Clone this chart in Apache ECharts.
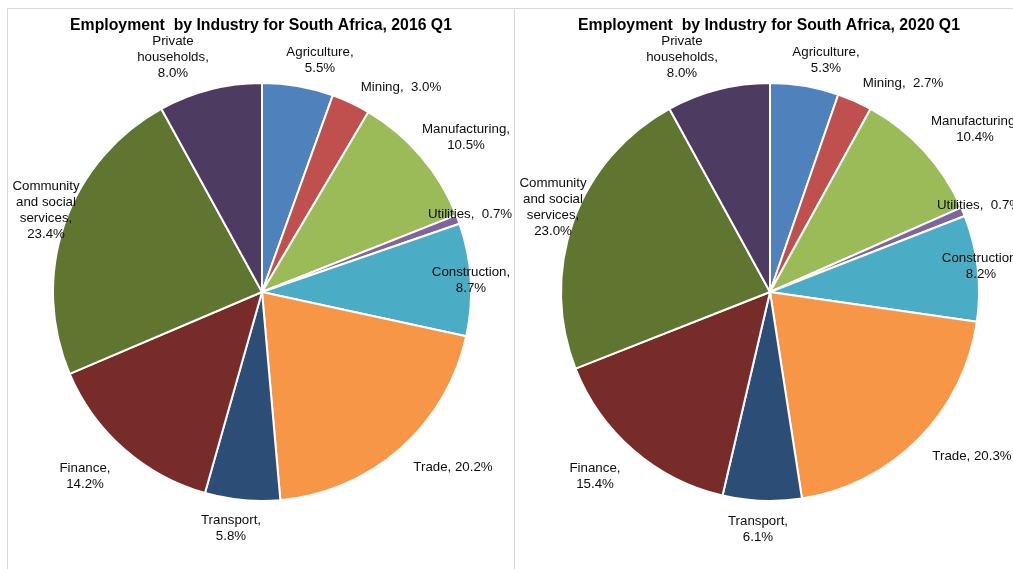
<!DOCTYPE html>
<html>
<head>
<meta charset="utf-8">
<script src="https://cdn.jsdelivr.net/npm/echarts@6/dist/echarts.min.js"></script>
<style>
  html, body { margin: 0; padding: 0; background: #fff; }
  #chart { width: 1013px; height: 569px; }
</style>
</head>
<body>
<div id="chart"></div>
<script>
// Industry categories (label text as wrapped on the chart)
const industries = [
  'Agriculture', 'Mining', 'Manufacturing', 'Utilities', 'Construction',
  'Trade', 'Transport', 'Finance', 'Community and social services', 'Private households'
];
const labelNames = [
  'Agriculture,\n', 'Mining,  ', 'Manufacturing,\n', 'Utilities,  ', 'Construction,\n',
  'Trade, ', 'Transport,\n', 'Finance,\n', 'Community\nand social\nservices,\n', 'Private\nhouseholds,\n'
];
// Share of employment, per cent
const share2016 = [5.5, 3.0, 10.5, 0.7, 8.7, 20.2, 5.8, 14.2, 23.4, 8.0];
const share2020 = [5.3, 2.7, 10.4, 0.7, 8.2, 20.3, 6.1, 15.4, 23.0, 8.0];
const titles = [
  'Employment  by Industry for South Africa, 2016 Q1',
  'Employment  by Industry for South Africa, 2020 Q1'
];

const colors = ['#4F81BD', '#C0504D', '#9BBB59', '#8064A2', '#4BACC6',
                '#F79646', '#2C4D75', '#772C2A', '#5F7530', '#4D3B62'];

// Label placement: offsets of each label's centre from its pie centre (px)
const labelOffsets = [
  [[58, -232], [139, -205], [204, -155], [208, -78], [209, -12],
   [191, 175], [-31, 236], [-177, 184], [-216, -82], [-89, -235]],
  [[56, -232], [133, -209], [205, -163], [209, -87], [211, -26],
   [202, 164], [-12, 237], [-175, 184], [-217, -85], [-88, -235]]
];
const centers = [[262, 292], [770, 292]];

function buildSeries(values, idx) {
  return {
    type: 'pie',
    center: centers[idx],
    radius: 209,
    startAngle: 90,
    clockwise: true,
    avoidLabelOverlap: false,
    animation: false,
    silent: true,
    itemStyle: { borderColor: '#fff', borderWidth: 2 },
    label: {
      show: true,
      position: 'outside',
      fontFamily: 'Liberation Sans, Arial, sans-serif',
      fontSize: 13.3,
      lineHeight: 16,
      color: '#0d0d0d',
      align: 'center',
      formatter: p => labelNames[p.dataIndex] + p.value.toFixed(1) + '%'
    },
    labelLine: { show: false },
    labelLayout: p => {
      const off = labelOffsets[idx][p.dataIndex];
      return {
        x: centers[idx][0] + off[0],
        y: centers[idx][1] + off[1],
        align: 'center',
        verticalAlign: 'middle',
        hideOverlap: false
      };
    },
    data: values.map((v, i) => ({
      name: industries[i],
      value: v,
      itemStyle: { color: colors[i] }
    }))
  };
}

const chart = echarts.init(document.getElementById('chart'), null, { renderer: 'canvas' });
chart.setOption({
  backgroundColor: '#fff',
  title: titles.map((t, i) => ({
    text: t,
    left: centers[i][0] - 6,
    top: 13,
    textAlign: 'center',
    textStyle: {
      fontFamily: 'Liberation Sans, Arial, sans-serif',
      fontSize: 15.8,
      fontWeight: 'bold',
      color: '#000'
    }
  })),
  graphic: [
    // chart-area frames
    { type: 'rect', shape: { x: 7.5, y: 8.5, width: 507, height: 600 },
      style: { fill: 'none', stroke: '#D9D9D9', lineWidth: 1 }, silent: true, z: -1 },
    { type: 'rect', shape: { x: 514.5, y: 8.5, width: 520, height: 600 },
      style: { fill: 'none', stroke: '#D9D9D9', lineWidth: 1 }, silent: true, z: -1 }
  ],
  series: [buildSeries(share2016, 0), buildSeries(share2020, 1)]
});
</script>
</body>
</html>
